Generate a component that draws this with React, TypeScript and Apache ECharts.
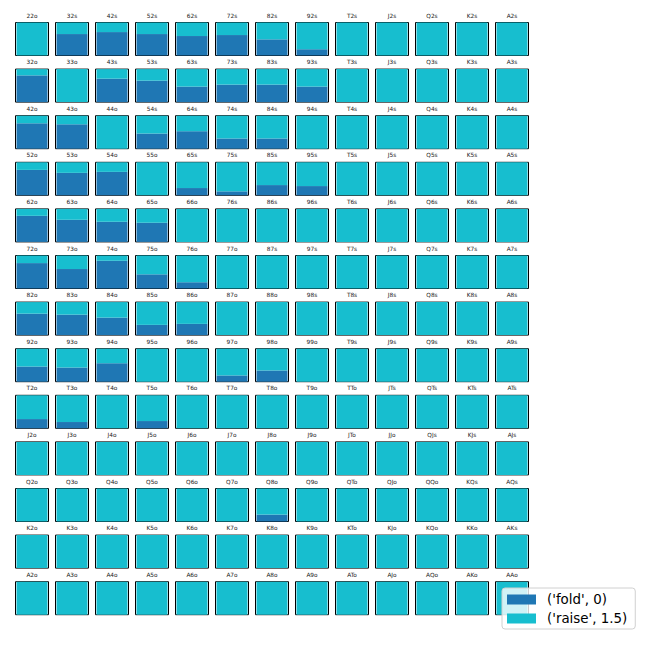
import React, { useEffect, useRef } from "react";
import * as echarts from "echarts";

const ranks = ["2", "3", "4", "5", "6", "7", "8", "9", "T", "J", "Q", "K", "A"];
const seriesNames = ["('fold', 0)", "('raise', 1.5)"];

// fold fraction per cell, row r (0..12), column c (0..12)
const fold0 = [0, 0.65, 0.71, 0.65, 0.59, 0.62, 0.49, 0.19, 0, 0, 0, 0, 0];
const fold1 = [0.81, 0, 0.71, 0.65, 0.47, 0.53, 0.53, 0.47, 0, 0, 0, 0, 0];
const fold2 = [0.77, 0.74, 0, 0.46, 0.53, 0.31, 0.31, 0, 0, 0, 0, 0, 0];
const fold3 = [0.77, 0.68, 0.71, 0, 0.22, 0.12, 0.31, 0.28, 0, 0, 0, 0, 0];
const fold4 = [0.79, 0.67, 0.61, 0.58, 0, 0, 0, 0, 0, 0, 0, 0, 0];
const fold5 = [0.77, 0.59, 0.84, 0.43, 0.19, 0, 0, 0, 0, 0, 0, 0, 0];
const fold6 = [0.65, 0.62, 0.53, 0.31, 0.34, 0, 0, 0, 0, 0, 0, 0, 0];
const fold7 = [0.46, 0.43, 0.56, 0, 0, 0.19, 0.34, 0, 0, 0, 0, 0, 0];
const fold8 = [0.28, 0.19, 0, 0.22, 0, 0, 0, 0, 0, 0, 0, 0, 0];
const fold9 = [0, 0, 0, 0, 0, 0, 0, 0, 0, 0, 0, 0, 0];
const fold10 = [0, 0, 0, 0, 0, 0, 0.21, 0, 0, 0, 0, 0, 0];
const fold11 = [0, 0, 0, 0, 0, 0, 0, 0, 0, 0, 0, 0, 0];
const fold12 = [0, 0, 0, 0, 0, 0, 0, 0, 0, 0, 0, 0, 0];
const foldRows = [fold0, fold1, fold2, fold3, fold4, fold5, fold6, fold7, fold8, fold9, fold10, fold11, fold12];

const FOLD_COLOR = "#1f77b4";
const RAISE_COLOR = "#17becf";

function handLabel(r: number, c: number): string {
  if (r === c) return ranks[r] + ranks[r] + "o";
  if (c > r) return ranks[c] + ranks[r] + "s";
  return ranks[r] + ranks[c] + "o";
}

export default function App() {
  const ref = useRef<HTMLDivElement>(null);
  useEffect(() => {
    if (!ref.current) return;
    const chart = echarts.init(ref.current, undefined, { renderer: "svg" });
    const grid: any[] = [];
    const xAxis: any[] = [];
    const yAxis: any[] = [];
    const series: any[] = [];
    let idx = 0;
    for (let r = 0; r < 13; r++) {
      for (let c = 0; c < 13; c++) {
        const left = 15.5 + c * 40;
        const top = 22.5 + r * 46.6;
        const label = handLabel(r, c);
        grid.push({
          left,
          top,
          width: 33,
          height: 33,
          show: true,
          borderColor: "#000",
          borderWidth: 1,
          backgroundColor: "#fff",
        });
        xAxis.push({
          gridIndex: idx,
          type: "category",
          data: [label],
          position: "top",
          name: label,
          nameLocation: "middle",
          nameGap: 4,
          nameTextStyle: { fontSize: 5.8, color: "#222", fontFamily: "DejaVu Sans" },
          axisLine: { show: false },
          axisTick: { show: false },
          axisLabel: { show: false },
          splitLine: { show: false },
        });
        yAxis.push({
          gridIndex: idx,
          type: "value",
          min: 0,
          max: 1,
          show: false,
          splitLine: { show: false },
        });
        const f = foldRows[r][c];
        series.push({
          name: seriesNames[0],
          type: "bar",
          xAxisIndex: idx,
          yAxisIndex: idx,
          stack: "s" + idx,
          barWidth: 31,
          data: [f],
          itemStyle: { color: FOLD_COLOR },
          silent: true,
        });
        series.push({
          name: seriesNames[1],
          type: "bar",
          xAxisIndex: idx,
          yAxisIndex: idx,
          stack: "s" + idx,
          barWidth: 31,
          data: [1 - f],
          itemStyle: { color: RAISE_COLOR },
          silent: true,
        });
        idx++;
      }
    }
    chart.setOption({
      animation: false,
      backgroundColor: "#fff",
      grid,
      xAxis,
      yAxis,
      series,
      legend: {
        data: seriesNames.map((n, i) => ({ name: n, itemStyle: { color: i === 0 ? FOLD_COLOR : RAISE_COLOR } })),
        orient: "vertical",
        left: 502,
        top: 588,
        icon: "rect",
        itemWidth: 29,
        itemHeight: 10,
        itemGap: 6,
        padding: [5, 8, 4, 5],
        backgroundColor: "rgba(255,255,255,0.8)",
        borderColor: "#d0d0d0",
        borderWidth: 1,
        borderRadius: 3,
        selectedMode: false,
        textStyle: { fontSize: 13.4, color: "#000", fontFamily: "DejaVu Sans", padding: [0, 0, 0, 6] },
      },
    });
    return () => chart.dispose();
  }, []);
  return (
    <div
      ref={ref}
      style={{ position: "fixed", left: 0, top: 0, width: 650, height: 650 }}
    />
  );
}
